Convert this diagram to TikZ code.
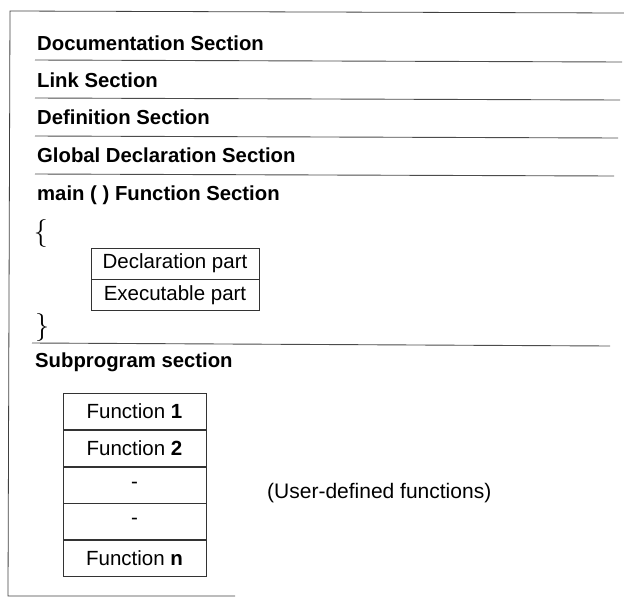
\documentclass[tikz,border=0pt]{standalone}
\usepackage{fontspec}
\setsansfont{Liberation Sans}
\begin{document}
\begin{tikzpicture}[x=1pt,y=-1pt,
  frame/.style={draw=black!75, line width=0.8pt},
  rule/.style={draw=black!70, line width=0.9pt},
  head/.style={anchor=base west, inner sep=0pt, font=\sffamily\bfseries\fontsize{20.3}{24}\selectfont},
  plain/.style={font=\sffamily\fontsize{20.5}{24}\selectfont},
  cell/.style={draw=black!80, line width=0.7pt, minimum height=31pt, inner sep=0pt, plain},
  fcell/.style={draw=black!80, line width=0.7pt, minimum width=143pt, minimum height=36pt, inner sep=0pt, plain},
  brace/.style={inner sep=0pt, font=\fontsize{28}{30}\selectfont}]
\useasboundingbox (0,0) rectangle (624,598);
% outer frame
\coordinate (tl) at (10,11);
\coordinate (tr) at (624,13);
\coordinate (bl) at (8,596);
\coordinate (br) at (235,596);
\draw[frame] (tr) -- (tl) -- (bl) -- (br);
% section headings
\node[head] (doc)  at (37,50)  {Documentation Section};
\node[head] (link) at (37,87)  {Link Section};
\node[head] (def)  at (37,124) {Definition Section};
\node[head] (glob) at (37,162) {Global Declaration Section};
\node[head] (main) at (37,200) {main ( ) Function Section};
\node[head] (sub)  at (35,367) {Subprogram section};
% separator rules
\coordinate (r1a) at (35,60);  \coordinate (r1b) at (622,62);
\coordinate (r2a) at (35,98);  \coordinate (r2b) at (620,100);
\coordinate (r3a) at (35,136); \coordinate (r3b) at (618,138);
\coordinate (r4a) at (35,174); \coordinate (r4b) at (614,176);
\coordinate (r5a) at (32,343); \coordinate (r5b) at (610,346);
\draw[rule] (r1a) -- (r1b);
\draw[rule] (r2a) -- (r2b);
\draw[rule] (r3a) -- (r3b);
\draw[rule] (r4a) -- (r4b);
\draw[rule] (r5a) -- (r5b);
% braces
\node[brace] (lb) at (41,233) {\{};
\node[brace] (rb) at (42,327) {\}};
% main function parts
\node[cell, minimum width=168pt] (decl) at (175,263.5) {Declaration part};
\node[cell, minimum width=168pt, anchor=north] (exec) at (decl.south) {Executable part};
% subprogram functions
\node[fcell] (f1) at (134.5,411.5) {Function \textbf{1}};
\node[fcell, anchor=north] (f2) at (f1.south) {Function \textbf{2}};
\node[fcell, anchor=north] (f3) at (f2.south) {-};
\node[fcell, anchor=north] (f4) at (f3.south) {-};
\node[fcell, anchor=north] (fn) at (f4.south) {Function \textbf{n}};
\node[plain, anchor=west, inner sep=0pt, font=\sffamily\fontsize{21}{24}\selectfont] (udf) at (267,493) {(User-defined functions)};
\end{tikzpicture}
\end{document}
